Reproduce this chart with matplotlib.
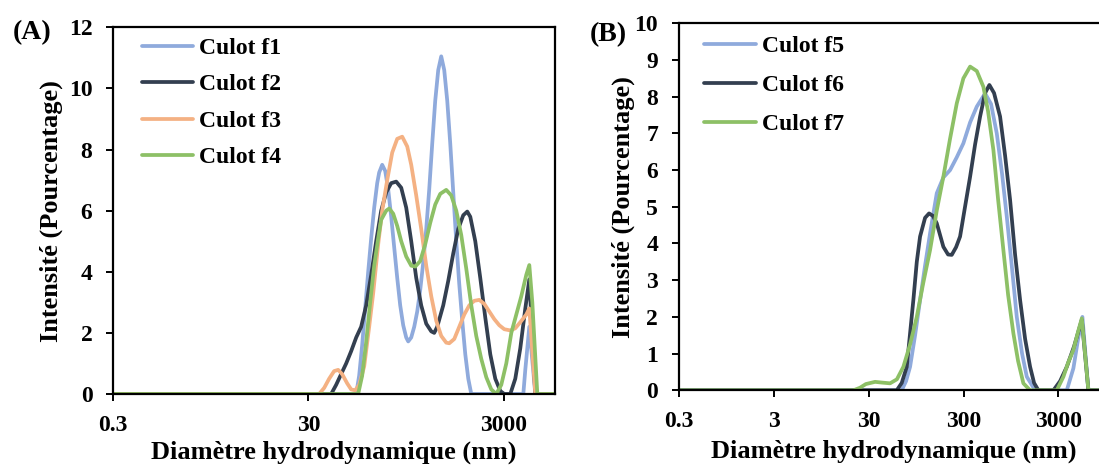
import matplotlib
matplotlib.use("Agg")
import matplotlib.pyplot as plt
from matplotlib.font_manager import FontProperties

# ---------------- data ----------------
# Panel A
f1_x = [0.3, 92.6, 99.3, 106.6, 114.4, 122.9, 131.9, 141.6, 152.0, 159.3, 171,
        183.6, 197, 211.5, 227.0, 243.8, 261.6, 280.8, 301.4, 316, 339.3, 364.2,
        390.9, 419.4, 450.3, 483.6, 519.0, 557.2, 597.9, 641.7, 688.8, 739.4,
        793.7, 852.0, 914.7, 981.9, 1054, 1131, 1215, 1304, 1400,
        4779, 5010, 5505, 6343, 10000]
f1_y = [0, 0, 0.6, 1.6, 2.8, 4.0, 5.1, 6.1, 6.9, 7.25, 7.5,
        7.3, 6.7, 5.8, 4.8, 3.8, 2.9, 2.25, 1.85, 1.72, 1.85, 2.2,
        2.7, 3.4, 4.3, 5.4, 6.7, 8.2, 9.6, 10.6, 11.05, 10.6,
        9.6, 8.2, 6.6, 5.0, 3.6, 2.4, 1.3, 0.5, 0,
        0, 0.8, 2.2, 0, 0]

f2_x = [0.3, 51.3, 57.7, 64.9, 73.1, 82.2, 92.6, 104.1, 117.2, 131.9, 148.4, 167,
        188, 211.5, 238, 267.9, 301.4, 339.3, 381.7, 429.5, 483.6, 544.2, 583.8,
        626.7, 722.1, 812.7, 914.7, 1029, 1158, 1273, 1367, 1538, 1730, 1948, 2192,
        2467, 2776, 3050, 3516, 3954, 4452, 5010, 5505, 6343, 10000]
f2_y = [0, 0, 0.3, 0.65, 1.0, 1.4, 1.85, 2.2, 2.9, 3.9, 5.0, 6.0,
        6.6, 6.9, 6.95, 6.75, 6.1, 5.0, 3.8, 2.9, 2.3, 2.05, 2.0,
        2.2, 2.9, 3.7, 4.6, 5.4, 5.85, 5.97, 5.8, 5.0, 3.8, 2.5, 1.3,
        0.5, 0.1, 0, 0, 0.5, 1.5, 2.8, 3.75, 0, 0]

f3_x = [0.3, 38.6, 43.5, 48.9, 55.0, 60.5, 66.5, 74.8, 82.2, 90.4, 99.3, 111.8,
        125.8, 138.3, 155.6, 171, 192.5, 216.6, 243.8, 274.3, 308.7, 339.3, 381.7,
        429.5, 483.6, 544.2, 612, 688.8, 775.2, 832.2, 936.6, 1054, 1186, 1335,
        1502, 1690, 1902, 2141, 2409, 2711, 3050, 3516, 3954, 4452, 5127, 5505,
        6343, 10000]
f3_y = [0, 0, 0.2, 0.5, 0.75, 0.79, 0.65, 0.35, 0.15, 0.12, 0.3, 0.9,
        2.2, 3.3, 4.9, 6.0, 7.0, 7.9, 8.35, 8.42, 8.1, 7.5, 6.5,
        5.4, 4.2, 3.2, 2.4, 1.9, 1.68, 1.66, 1.8, 2.2, 2.6, 2.9,
        3.05, 3.08, 2.95, 2.7, 2.45, 2.25, 2.12, 2.08, 2.15, 2.35, 2.6, 2.8,
        0, 0]

f4_x = [0.3, 97.0, 106.6, 117.2, 128.8, 141.6, 155.6, 167, 188, 201.8, 221.8,
        243.8, 267.9, 301.4, 339.3, 372.9, 419.4, 472.2, 531.3, 597.9, 672.9,
        775.2, 872.4, 981.9, 1105, 1244, 1400, 1574, 1772, 1994, 2244, 2525,
        2841, 3198, 3600, 4049, 4557, 5127, 5505, 5910, 6649, 10000]
f4_y = [0, 0, 0.6, 1.7, 3.0, 4.2, 5.1, 5.7, 6.0, 6.07, 5.9,
        5.5, 5.0, 4.5, 4.2, 4.17, 4.35, 4.9, 5.6, 6.2, 6.55,
        6.68, 6.5, 6.0, 5.2, 4.1, 2.9, 1.9, 1.15, 0.55, 0.15, 0,
        0.3, 1.0, 2.0, 2.6, 3.2, 3.9, 4.22, 3.0, 0, 0]

# Panel B
f5_x = [0.3, 66.9, 74.3, 81.9, 92.5, 104.4, 117.9, 133.1, 156.6, 183.8, 216.3,
        254.5, 298.7, 351.7, 413.7, 506.1, 585, 672, 764, 857, 975, 1092, 1242,
        1393, 1704, 3678, 4317, 4839, 5373, 6215, 10000]
f5_y = [0, 0, 0.25, 0.64, 1.5, 2.46, 3.4, 4.28, 5.37, 5.8, 6.0,
        6.35, 6.73, 7.3, 7.73, 8.09, 7.8, 7.0, 5.9, 4.73, 3.3, 2.0, 1.0,
        0.37, 0, 0, 0.6, 1.4, 2.0, 0, 0]

f6_x = [0.3, 59.3, 66.9, 75.6, 88.7, 96.4, 104.4, 117.9, 129.9, 143.1, 156.6,
        183.8, 206, 225.3, 250.2, 275.7, 311, 351.7, 397, 448.2, 506.1, 561.6,
        629, 728.1, 822, 928.5, 1048, 1184, 1337, 1509, 1662, 1846, 2657, 3126,
        3678, 4392, 5294, 6215, 10000]
f6_y = [0, 0, 0.2, 0.64, 2.46, 3.5, 4.19, 4.7, 4.82, 4.75, 4.55,
        3.91, 3.7, 3.69, 3.9, 4.19, 5.0, 5.82, 6.7, 7.46, 8.1, 8.32,
        8.1, 7.46, 6.4, 5.19, 3.7, 2.46, 1.4, 0.64, 0.2, 0, 0, 0.25,
        0.64, 1.2, 1.92, 0, 0]

f7_x = [0.3, 20.7, 24.3, 28.0, 35.0, 41.5, 50.4, 59.5, 69.6, 81.9, 96.4, 112.3,
        133, 156.6, 183.8, 216, 254.5, 298.7, 351.7, 413.7, 485.5, 544, 619, 694,
        789, 885, 1006, 1127, 1282, 1509, 2885, 3387, 3797, 4317, 4839, 5294,
        6215, 10000]
f7_y = [0, 0, 0.07, 0.17, 0.23, 0.21, 0.19, 0.3, 0.64, 1.25, 2.0, 2.9,
        3.82, 4.9, 5.82, 6.85, 7.82, 8.5, 8.82, 8.7, 8.27, 7.6, 6.55, 5.2,
        3.82, 2.6, 1.55, 0.8, 0.19, 0, 0, 0.37, 0.75, 1.1, 1.6, 1.96,
        0, 0]

series_A = [("Culot f1", f1_x, f1_y), ("Culot f2", f2_x, f2_y),
            ("Culot f3", f3_x, f3_y), ("Culot f4", f4_x, f4_y)]
series_B = [("Culot f5", f5_x, f5_y), ("Culot f6", f6_x, f6_y),
            ("Culot f7", f7_x, f7_y)]

colors_A = ["#8FAADC", "#333F50", "#F4B183", "#8DC066"]
colors_B = ["#8FAADC", "#333F50", "#8DC066"]

xticks_A = [0.3, 30, 3000]
xticklabels_A = ["0.3", "30", "3000"]
xticks_B = [0.3, 3, 30, 300, 3000]
xticklabels_B = ["0.3", "3", "30", "300", "3000"]
yticks_A = [0, 2, 4, 6, 8, 10, 12]
yticks_B = list(range(0, 11))

xlabel = "Diamètre hydrodynamique (nm)"
ylabel = "Intensité (Pourcentage)"

# ---------------- drawing ----------------
FAM = "Liberation Serif"
fp_tick = FontProperties(family=FAM, weight="bold", size=17)
fp_leg = FontProperties(family=FAM, weight="bold", size=17)
fp_lab = FontProperties(family=FAM, weight="bold", size=19)
fp_panel = FontProperties(family=FAM, weight="bold", size=20)

W, H = 1099, 467
fig = plt.figure(figsize=(W / 100, H / 100), dpi=100)


def px_axes(left, right, top, bottom):
    return [left / W, (H - bottom) / H, (right - left) / W, (bottom - top) / H]


axA = fig.add_axes(px_axes(113.3, 554.6, 27.3, 394))
axB = fig.add_axes(px_axes(679, 1108, 23.3, 390.3))


def style(ax, series, colors, xticks, xticklabels, yticks, ymax):
    for (name, xs, ys), c in zip(series, colors):
        ax.plot(xs, ys, color=c, lw=2.7, label=name, solid_joinstyle="round",
                solid_capstyle="round")
    ax.set_xscale("log")
    ax.set_xlim(0.3, 10000)
    ax.set_ylim(0, ymax)
    ax.set_xticks(xticks)
    ax.set_xticklabels(xticklabels, fontproperties=fp_tick)
    ax.xaxis.set_minor_locator(matplotlib.ticker.NullLocator())
    ax.set_yticks(yticks)
    ax.set_yticklabels([str(v) for v in yticks], fontproperties=fp_tick)
    ax.tick_params(axis="both", direction="out", length=5, width=1.4,
                   color="black")
    ax.tick_params(axis="x", pad=10)
    ax.tick_params(axis="y", pad=10)
    for s in ax.spines.values():
        s.set_linewidth(1.6)
        s.set_color("black")


style(axA, series_A, colors_A, xticks_A, xticklabels_A, yticks_A, 12)
style(axB, series_B, colors_B, xticks_B, xticklabels_B, yticks_B, 10)

for ax in (axA, axB):
    ax.set_xlabel(xlabel, fontproperties=fp_lab)
    ax.set_ylabel(ylabel, fontproperties=fp_lab)

axA.xaxis.set_label_coords(0.5, -0.127)
axA.yaxis.set_label_coords(-0.114, 0.5)
axB.xaxis.set_label_coords((893.5 - 679) / 429, -0.134)
axB.yaxis.set_label_coords(-0.1026, 0.5)

axA.legend(loc="upper left", bbox_to_anchor=(0.064, 0.972), frameon=False,
           borderpad=0, borderaxespad=0, handlelength=2.2, handletextpad=0.25,
           labelspacing=0.63, prop=fp_leg)
axB.legend(loc="upper left", bbox_to_anchor=(0.059, 0.966), frameon=False,
           borderpad=0, borderaxespad=0, handlelength=2.2, handletextpad=0.25,
           labelspacing=0.73, prop=fp_leg)

fig.text(31.7 / W, 1 - 33 / H, "(A)", fontproperties=fp_panel,
         ha="center", va="center")
fig.text(608 / W, 1 - 35 / H, "(B)", fontproperties=fp_panel,
         ha="center", va="center")

fig.savefig("out.png", dpi=100)
